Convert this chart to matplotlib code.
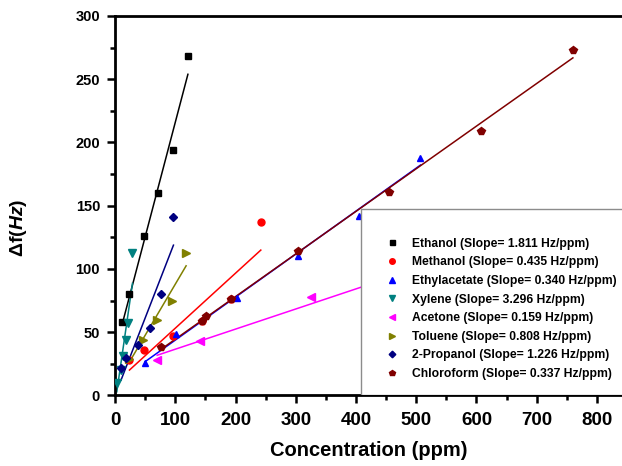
import numpy as np
import matplotlib.pyplot as plt
from matplotlib.lines import Line2D
from matplotlib.patches import Rectangle

plt.rcParams['font.family'] = ['Liberation Sans', 'DejaVu Sans']
plt.rcParams['mathtext.fontset'] = 'custom'
plt.rcParams['mathtext.it'] = 'Liberation Sans:style=italic:weight=bold'
plt.rcParams['mathtext.rm'] = 'Liberation Sans:weight=bold'

# Frequency shift vs. concentration for each analyte
names = ['Ethanol', 'Methanol', 'Ethylacetate', 'Xylene',
         'Acetone', 'Toluene', '2-Propanol', 'Chloroform']
slopes = [1.811, 0.435, 0.340, 3.296, 0.159, 0.808, 1.226, 0.337]

ethanol_x = [12, 24, 48, 72, 97, 121]
ethanol_y = [58, 80, 126, 160, 194, 268]
methanol_x = [24, 48, 96, 144, 193, 242]
methanol_y = [28, 36, 47, 59, 76, 137]
ethylacetate_x = [50, 101, 202, 304, 405, 507]
ethylacetate_y = [26, 49, 77, 110, 142, 188]
xylene_x = [3, 10, 14, 18, 22, 29]
xylene_y = [10, 20, 31, 44, 57, 113]
acetone_x = [70, 141, 326, 490]
acetone_y = [28, 43, 78, 97]
toluene_x = [24, 47, 70, 94, 118]
toluene_y = [29, 44, 60, 75, 113]
propanol_x = [10, 19, 38, 58, 77, 97]
propanol_y = [22, 30, 40, 53, 80, 141]
chloroform_x = [76, 145, 151, 193, 303, 455, 608, 760]
chloroform_y = [38, 59, 63, 76, 114, 161, 209, 273]

xs = [ethanol_x, methanol_x, ethylacetate_x, xylene_x,
      acetone_x, toluene_x, propanol_x, chloroform_x]
ys = [ethanol_y, methanol_y, ethylacetate_y, xylene_y,
      acetone_y, toluene_y, propanol_y, chloroform_y]

colors = ['#000000', '#ff0000', '#0000ff', '#008080',
          '#ff00ff', '#808000', '#000080', '#800000']
markers = ['s', 'o', '^', 'v', '<', '>', 'D', 'p']
msizes = [4.5, 5, 5, 5.5, 5.5, 5.5, 4.2, 5.5]

fig = plt.figure(figsize=(6.22, 4.66), dpi=100)
ax = fig.add_axes([0.1849, 0.1513, 0.8151, 0.8144])

handles = []
for i in range(len(names)):
    x = np.array(xs[i], dtype=float)
    y = np.array(ys[i], dtype=float)
    ax.plot(x, y, linestyle='none', marker=markers[i], color=colors[i],
            ms=msizes[i], mec=colors[i], zorder=3)
    # fitted line with the reported slope through the data centroid
    b = y.mean() - slopes[i] * x.mean()
    xx = np.array([x.min(), x.max()])
    ax.plot(xx, slopes[i] * xx + b, color=colors[i], lw=1.1, zorder=2)
    handles.append(Line2D([], [], linestyle='none', marker=markers[i],
                          color=colors[i], ms=msizes[i] * 0.8))

labels = [f'{n} (Slope= {s:.3f} Hz/ppm)' for n, s in zip(names, slopes)]

ax.add_patch(Rectangle((0.485, 0.0), 0.6, 0.4914, transform=ax.transAxes,
                       facecolor='white', edgecolor='#8c8c8c', lw=1.0,
                       zorder=5, clip_on=True))
leg = ax.legend(handles, labels, loc='upper left', bbox_to_anchor=(0.522, 0.432),
                frameon=False, borderpad=0, handlelength=1.0, handletextpad=1.2,
                labelspacing=0.55, prop={'weight': 'bold', 'size': 8.7})
leg.set_zorder(6)

ax.set_xlim(0, 841.5)
ax.set_ylim(0, 300)
ax.set_xticks(np.arange(0, 801, 100))
ax.set_xticks(np.arange(0, 801, 50), minor=True)
ax.set_yticks(np.arange(0, 301, 50))
ax.set_yticks(np.arange(0, 301, 25), minor=True)

for side in ['left', 'bottom', 'top']:
    ax.spines[side].set_linewidth(2.0)
ax.spines['right'].set_visible(False)

ax.tick_params(which='major', direction='out', length=5.8, width=1.8,
               top=False, right=False)
ax.tick_params(which='minor', direction='out', length=3.6, width=1.8,
               top=False, right=False)
ax.tick_params(axis='x', which='major', labelsize=13.5, pad=6)
ax.tick_params(axis='y', which='major', labelsize=10.5, pad=5)
for lab in ax.get_xticklabels() + ax.get_yticklabels():
    lab.set_fontweight('bold')

ax.set_xlabel('Concentration (ppm)', fontsize=14.5, fontweight='bold', labelpad=9)
fig.text(0.029, 0.511, r'$\mathrm{\Delta f(}\mathit{Hz}\mathrm{)}$', fontsize=14,
         rotation=90, ha='center', va='center')

fig.savefig('out.png', dpi=100)
